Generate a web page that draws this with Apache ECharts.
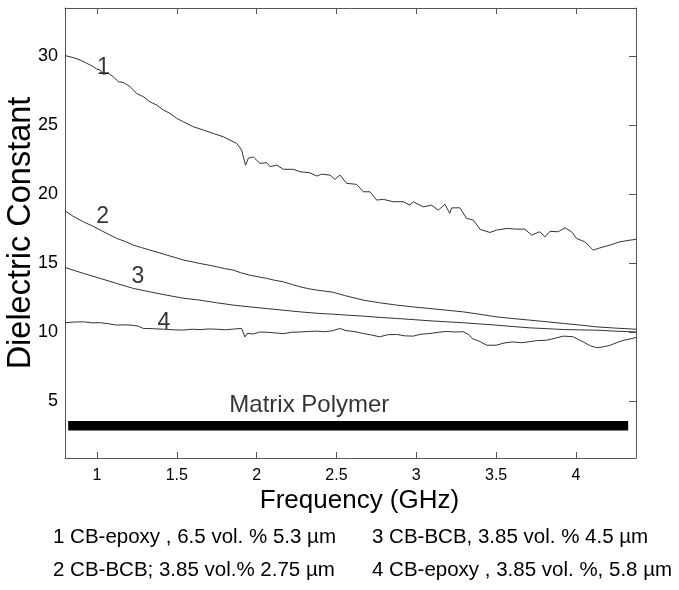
<!DOCTYPE html>
<html>
<head>
<meta charset="utf-8">
<title>Dielectric Constant vs Frequency</title>
<script src="https://cdn.jsdelivr.net/npm/echarts@6/dist/echarts.min.js"></script>
<style>
  html, body { margin: 0; padding: 0; background: #fff; }
  #chart { width: 679px; height: 590px; }
</style>
</head>
<body>
<div id="chart"></div>
<script>
// Frequency (GHz) and dielectric constant for each composite
const freq1 = [0.80, 0.806, 0.852, 0.894, 0.936, 0.977, 0.998, 1.02, 1.04, 1.071, 1.102, 1.134, 1.165, 1.207, 1.249, 1.29, 1.332, 1.374, 1.416, 1.457, 1.499, 1.541, 1.603, 1.666, 1.729, 1.791, 1.833, 1.875, 1.906, 1.931, 1.948, 1.979, 1.99, 2.021, 2.063, 2.084, 2.126, 2.167, 2.23, 2.272, 2.334, 2.376, 2.407, 2.46, 2.49, 2.522, 2.564, 2.626, 2.668, 2.71, 2.752, 2.793, 2.856, 2.918, 2.96, 2.98, 3.044, 3.096, 3.138, 3.18, 3.21, 3.221, 3.273, 3.315, 3.357, 3.4, 3.461, 3.503, 3.566, 3.629, 3.68, 3.722, 3.774, 3.806, 3.837, 3.889, 3.931, 3.973, 4.004, 4.056, 4.108, 4.15, 4.213, 4.275, 4.338, 4.376];
const eps1 = [30.05, 30.04, 29.9, 29.73, 29.49, 29.25, 29.08, 29.0, 28.69, 28.77, 28.52, 28.16, 28.1, 27.8, 27.3, 27.07, 26.7, 26.46, 26.1, 25.86, 25.5, 25.25, 24.89, 24.65, 24.4, 24.16, 23.92, 23.68, 23.2, 22.1, 22.6, 22.7, 22.76, 22.23, 22.28, 21.99, 22.11, 21.8, 21.8, 21.62, 21.55, 21.31, 21.45, 21.38, 21.07, 21.38, 20.78, 20.71, 20.17, 20.17, 19.57, 19.62, 19.45, 19.45, 19.2, 19.45, 19.08, 19.2, 18.84, 19.26, 18.6, 19.0, 19.01, 18.24, 18.12, 17.44, 17.22, 17.39, 17.51, 17.46, 17.46, 17.03, 17.27, 16.9, 17.3, 17.27, 17.56, 17.27, 16.78, 16.54, 15.94, 16.1, 16.3, 16.54, 16.66, 16.72];

const freq2 = [0.80, 0.85, 0.915, 0.97, 1.02, 1.07, 1.124, 1.18, 1.228, 1.28, 1.332, 1.39, 1.437, 1.49, 1.541, 1.6, 1.645, 1.7, 1.75, 1.8, 1.854, 1.9, 1.958, 2.01, 2.063, 2.11, 2.167, 2.22, 2.272, 2.32, 2.376, 2.43, 2.48, 2.55, 2.668, 2.77, 2.877, 2.98, 3.086, 3.19, 3.294, 3.4, 3.5, 3.6, 3.71, 3.82, 3.92, 4.03, 4.13, 4.25, 4.376];
const eps2 = [18.79, 18.4, 17.99, 17.7, 17.4, 17.1, 16.79, 16.55, 16.3, 16.12, 15.94, 15.75, 15.58, 15.4, 15.22, 15.08, 14.97, 14.85, 14.73, 14.6, 14.49, 14.3, 14.12, 14.0, 13.89, 13.76, 13.64, 13.45, 13.28, 13.15, 13.04, 12.96, 12.88, 12.65, 12.31, 12.12, 11.95, 11.82, 11.7, 11.58, 11.46, 11.28, 11.1, 10.98, 10.86, 10.74, 10.62, 10.5, 10.37, 10.28, 10.2];

const freq3 = [0.80, 0.915, 1.02, 1.124, 1.228, 1.332, 1.437, 1.541, 1.645, 1.75, 1.854, 1.958, 2.063, 2.167, 2.272, 2.376, 2.48, 2.57, 2.668, 2.77, 2.877, 2.98, 3.086, 3.19, 3.294, 3.4, 3.5, 3.6, 3.71, 3.82, 3.92, 4.03, 4.13, 4.25, 4.376];
const eps3 = [14.68, 14.25, 13.89, 13.52, 13.16, 12.91, 12.67, 12.45, 12.31, 12.12, 11.95, 11.82, 11.7, 11.58, 11.46, 11.36, 11.29, 11.22, 11.15, 11.06, 10.98, 10.9, 10.81, 10.74, 10.67, 10.58, 10.5, 10.4, 10.3, 10.24, 10.18, 10.15, 10.13, 10.06, 10.0];

const freq4 = [0.80, 0.85, 0.915, 0.97, 1.02, 1.07, 1.124, 1.18, 1.228, 1.26, 1.29, 1.35, 1.437, 1.49, 1.541, 1.6, 1.645, 1.7, 1.75, 1.8, 1.854, 1.906, 1.927, 1.94, 1.98, 2.02, 2.063, 2.11, 2.167, 2.22, 2.272, 2.33, 2.376, 2.43, 2.48, 2.52, 2.56, 2.61, 2.668, 2.72, 2.77, 2.82, 2.877, 2.93, 2.98, 3.03, 3.086, 3.14, 3.19, 3.24, 3.294, 3.33, 3.35, 3.4, 3.44, 3.5, 3.55, 3.6, 3.66, 3.71, 3.76, 3.815, 3.87, 3.92, 3.98, 4.045, 4.09, 4.13, 4.17, 4.215, 4.26, 4.3, 4.34, 4.376];
const eps4 = [10.67, 10.72, 10.74, 10.66, 10.68, 10.6, 10.5, 10.52, 10.48, 10.42, 10.26, 10.24, 10.19, 10.15, 10.14, 10.2, 10.17, 10.22, 10.2, 10.16, 10.21, 10.26, 9.64, 9.9, 9.86, 10.0, 9.98, 9.94, 9.88, 9.98, 10.0, 10.04, 10.06, 10.02, 10.1, 10.26, 10.1, 10.04, 9.89, 9.78, 9.65, 9.8, 9.82, 9.72, 9.7, 9.84, 9.89, 9.98, 10.04, 10.0, 10.02, 9.8, 9.53, 9.3, 9.04, 9.04, 9.2, 9.28, 9.22, 9.3, 9.38, 9.4, 9.55, 9.7, 9.66, 9.28, 9.0, 8.86, 8.92, 9.04, 9.25, 9.4, 9.5, 9.6];

// Reference level of the unfilled matrix polymer
const matrixFreq = [0.82, 4.327];
const matrixEps = [3.2, 3.2];

// Curve number tags and their anchor points
const tagNames = ['1', '2', '3', '4'];
const tagFreq = [1.04, 1.035, 1.257, 1.42];
const tagEps = [29.15, 18.4, 13.98, 10.71];

// Axis ticks
const xTicks = [1, 1.5, 2, 2.5, 3, 3.5, 4];
const yTicks = [5, 10, 15, 20, 25, 30];

// Sample descriptions under the axis
const legendLines = [
  '1 CB-epoxy , 6.5 vol. % 5.3 \u00b5m',
  '2 CB-BCB; 3.85 vol.% 2.75 \u00b5m',
  '3 CB-BCB, 3.85 vol. % 4.5 \u00b5m',
  '4 CB-epoxy , 3.85 vol. %, 5.8 \u00b5m'
];

const FONT = '"Liberation Sans", Arial, Helvetica, sans-serif';
const FRAME = '#555';
const CURVE = '#333';

const zip = (xs, ys) => xs.map((x, i) => [x, ys[i]]);

const curveSeries = [[freq1, eps1], [freq2, eps2], [freq3, eps3], [freq4, eps4]].map((pair, i) => ({
  name: 'sample ' + (i + 1),
  type: 'line',
  data: zip(pair[0], pair[1]),
  showSymbol: false,
  symbol: 'none',
  lineStyle: { color: CURVE, width: 1 },
  z: 3,
  silent: true
}));

const X_MIN = 0.8, X_MAX = 4.376, Y_MIN = 0.86, Y_MAX = 33.5;

const frameAxisX = (position, showLabel) => ({
  type: 'value',
  position: position,
  min: X_MIN, max: X_MAX,
  axisLine: { show: true, onZero: false, lineStyle: { color: FRAME, width: 1 } },
  axisTick: { show: true, inside: true, length: 6, customValues: xTicks, lineStyle: { color: FRAME } },
  axisLabel: showLabel ? {
    show: true, customValues: xTicks, margin: 10,
    fontSize: 16, color: '#000', fontFamily: FONT
  } : { show: false },
  splitLine: { show: false }
});

const plainLabel = (size) => ({
  show: true, position: 'inside', formatter: '{b}',
  fontSize: size, color: '#000', fontFamily: FONT,
  textBorderWidth: 0, textShadowBlur: 0
});

const option = {
  animation: false,
  backgroundColor: '#fff',
  grid: { left: 65, top: 8, right: 43, bottom: 132, containLabel: false, outerBoundsMode: 'none' },
  xAxis: [
    Object.assign(frameAxisX('bottom', true), {
      name: 'Frequency (GHz)',
      nameLocation: 'middle',
      nameGap: 30,
      nameMoveOverlap: false,
      nameTextStyle: { fontSize: 26, color: '#000', fontFamily: FONT, padding: [0, 0, 0, 18] }
    }),
    frameAxisX('top', false)
  ],
  yAxis: [
    {
      type: 'value',
      position: 'left',
      min: Y_MIN, max: Y_MAX,
      name: 'Dielectric Constant',
      nameLocation: 'middle',
      nameGap: 27,
      nameMoveOverlap: false,
      nameRotate: 90,
      nameTextStyle: { fontSize: 32.5, color: '#000', fontFamily: FONT },
      axisLine: { show: true, onZero: false, lineStyle: { color: FRAME, width: 1 } },
      axisTick: { show: false },
      axisLabel: { show: true, customValues: yTicks, margin: 7, fontSize: 18, color: '#000', fontFamily: FONT },
      splitLine: { show: false }
    },
    {
      type: 'value',
      position: 'right',
      min: Y_MIN, max: Y_MAX,
      axisLine: { show: true, onZero: false, lineStyle: { color: FRAME, width: 1 } },
      axisTick: { show: true, inside: true, length: 7, customValues: yTicks, lineStyle: { color: FRAME } },
      axisLabel: { show: false },
      splitLine: { show: false }
    }
  ],
  series: curveSeries.concat([
    {
      name: 'Matrix Polymer',
      type: 'line',
      data: zip(matrixFreq, matrixEps),
      showSymbol: false,
      symbol: 'none',
      lineStyle: { color: '#000', width: 9.5, cap: 'butt' },
      silent: true,
      z: 3
    },
    {
      name: 'tags',
      type: 'scatter',
      symbolSize: 0,
      itemStyle: { color: '#000' },
      data: tagNames.map((t, i) => ({ value: [tagFreq[i], tagEps[i]], name: t })),
      label: plainLabel(23),
      silent: true,
      z: 5
    },
    {
      name: 'matrix caption',
      type: 'scatter',
      symbolSize: 0,
      itemStyle: { color: '#000' },
      data: [{ value: [2.33, 4.69], name: 'Matrix Polymer' }],
      label: plainLabel(24),
      silent: true,
      z: 5
    }
  ]),
  graphic: [
    { type: 'text', left: 53, top: 527, style: { text: legendLines[0], font: '20.5px ' + FONT, fill: '#000' } },
    { type: 'text', left: 53, top: 560, style: { text: legendLines[1], font: '20.5px ' + FONT, fill: '#000' } },
    { type: 'text', left: 372, top: 527, style: { text: legendLines[2], font: '20.5px ' + FONT, fill: '#000' } },
    { type: 'text', left: 372, top: 560, style: { text: legendLines[3], font: '20.5px ' + FONT, fill: '#000' } }
  ]
};

const chart = echarts.init(document.getElementById('chart'), null, { renderer: 'canvas' });
chart.setOption(option);
</script>
</body>
</html>
